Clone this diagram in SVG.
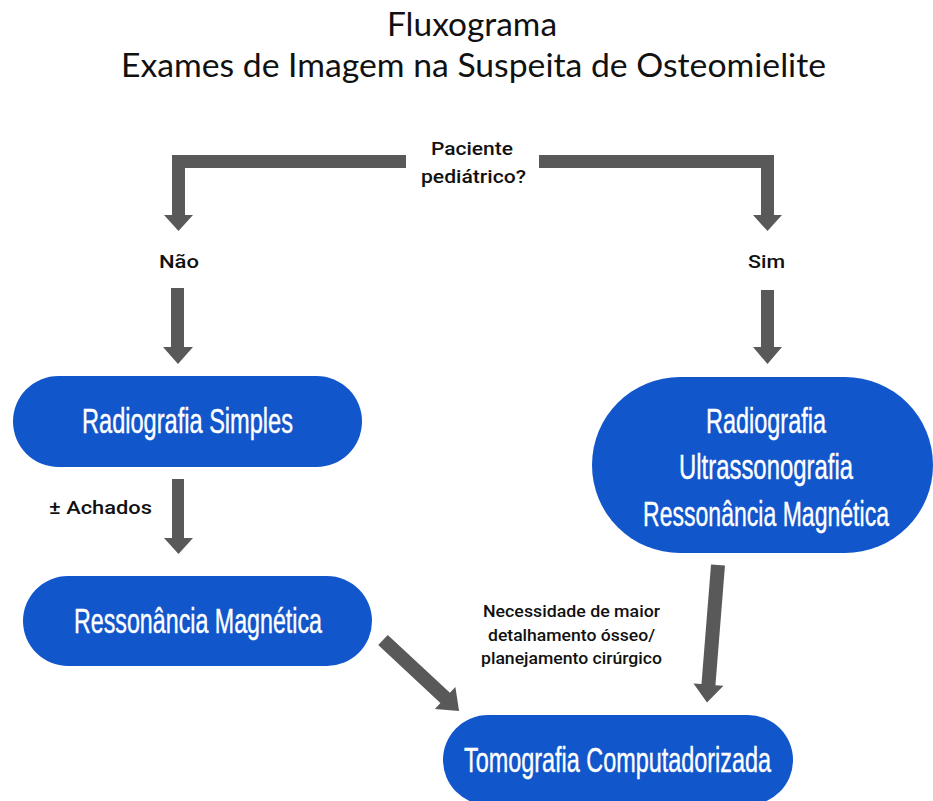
<svg xmlns="http://www.w3.org/2000/svg" width="933" height="801" viewBox="0 0 933 801">
  <defs>
    <style>
      .title { font-family: "Lato", "Open Sans", "Liberation Sans", sans-serif; font-size: 32px; font-weight: 400; fill: #111111; }
      .lbl { font-family: "Roboto", "Liberation Sans", sans-serif; font-weight: 500; fill: #111111; }
      .pill { fill: #1256cc; }
      .ptxt { font-family: "Liberation Sans", "Roboto", sans-serif; font-size: 35px; fill: #ffffff; stroke: #ffffff; stroke-width: 0.4px; }
      .arrow { fill: #595959; }
    </style>
  </defs>
  <rect width="933" height="801" fill="#ffffff"/>

  <g id="title">
    <text class="title" x="472" y="36" text-anchor="middle" textLength="170" lengthAdjust="spacingAndGlyphs">Fluxograma</text>
    <text class="title" x="473.5" y="77" text-anchor="middle" textLength="705" lengthAdjust="spacingAndGlyphs">Exames de Imagem na Suspeita de Osteomielite</text>
  </g>

  <g id="connectors">
    <polygon class="arrow" points="406,155 172,155 172,215 164,215 178.5,231 193,215 185,215 185,168 406,168"/>
    <polygon class="arrow" points="539,155 774,155 774,215 782,215 767.5,231 753,215 761,215 761,168 539,168"/>
    <polygon class="arrow" points="171,288 184,288 184,347 193,347 178,364 163,347 171,347"/>
    <polygon class="arrow" points="761,290 774,290 774,347 782,347 767.5,364 753,347 761,347"/>
    <polygon class="arrow" points="172,479 184,479 184,538 193,538 178.5,554 164,538 172,538"/>
    <path class="arrow" transform="translate(383,640) rotate(43)" d="M0,-7 L85,-7 L85,-15 L104,0 L85,15 L85,7 L0,7 Z"/>
    <path class="arrow" transform="translate(718,565) rotate(94.56)" d="M0,-7 L120,-7 L120,-15 L138,0 L120,15 L120,7 L0,7 Z"/>
  </g>

  <g id="q-paciente">
    <text class="lbl" x="472" y="155" font-size="18.5" text-anchor="middle" textLength="82" lengthAdjust="spacingAndGlyphs">Paciente</text>
    <text class="lbl" x="473.5" y="183" font-size="18.5" text-anchor="middle" textLength="105" lengthAdjust="spacingAndGlyphs">pediátrico?</text>
  </g>
  <g id="lbl-nao">
    <text class="lbl" x="179" y="268" font-size="19" text-anchor="middle" textLength="40" lengthAdjust="spacingAndGlyphs">Não</text>
  </g>
  <g id="lbl-sim">
    <text class="lbl" x="766.5" y="268" font-size="19" text-anchor="middle" textLength="37" lengthAdjust="spacingAndGlyphs">Sim</text>
  </g>
  <g id="lbl-achados">
    <text class="lbl" x="100.5" y="514" font-size="19" text-anchor="middle" textLength="103" lengthAdjust="spacingAndGlyphs">± Achados</text>
  </g>
  <g id="lbl-necessidade">
    <text class="lbl" x="571.5" y="617" font-size="16" text-anchor="middle" textLength="177" lengthAdjust="spacingAndGlyphs">Necessidade de maior</text>
    <text class="lbl" x="571.5" y="641" font-size="16" text-anchor="middle" textLength="167" lengthAdjust="spacingAndGlyphs">detalhamento ósseo/</text>
    <text class="lbl" x="571.5" y="664" font-size="16" text-anchor="middle" textLength="181" lengthAdjust="spacingAndGlyphs">planejamento cirúrgico</text>
  </g>

  <g id="node-radiografia-simples">
    <rect class="pill" x="13" y="376" width="349" height="91" rx="45.5"/>
    <text class="ptxt" x="187.5" y="433" text-anchor="middle" textLength="211" lengthAdjust="spacingAndGlyphs">Radiografia Simples</text>
  </g>
  <g id="node-ressonancia">
    <rect class="pill" x="23" y="576" width="349" height="90" rx="45"/>
    <text class="ptxt" x="198" y="633" text-anchor="middle" textLength="248" lengthAdjust="spacingAndGlyphs">Ressonância Magnética</text>
  </g>
  <g id="node-pediatrico">
    <rect class="pill" x="592" y="377" width="341" height="176" rx="88"/>
    <text class="ptxt" x="766" y="433" text-anchor="middle" textLength="120" lengthAdjust="spacingAndGlyphs">Radiografia</text>
    <text class="ptxt" x="766" y="479" text-anchor="middle" textLength="174" lengthAdjust="spacingAndGlyphs">Ultrassonografia</text>
    <text class="ptxt" x="766" y="526" text-anchor="middle" textLength="246" lengthAdjust="spacingAndGlyphs">Ressonância Magnética</text>
  </g>
  <g id="node-tomografia">
    <rect class="pill" x="443" y="715" width="350" height="90" rx="45"/>
    <text class="ptxt" x="617.5" y="772" text-anchor="middle" textLength="307" lengthAdjust="spacingAndGlyphs">Tomografia Computadorizada</text>
  </g>
</svg>
